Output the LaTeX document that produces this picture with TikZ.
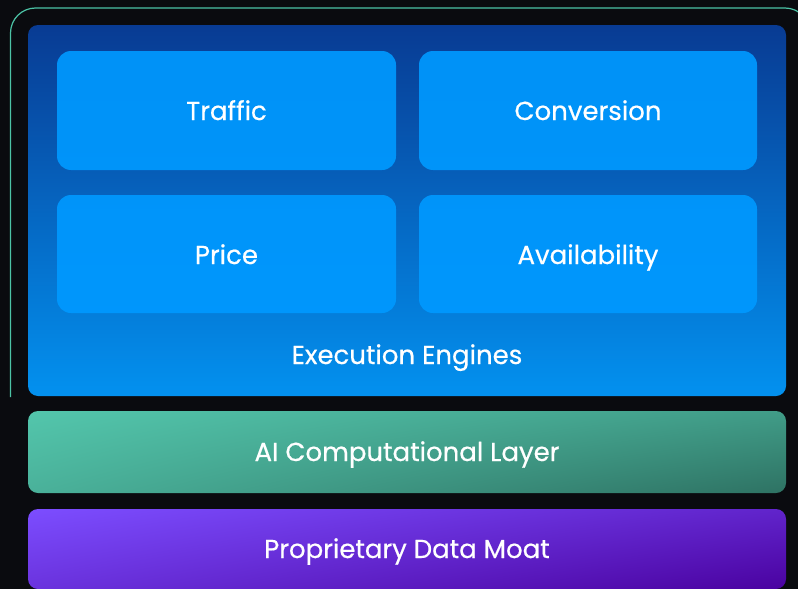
\documentclass[tikz,border=0pt]{standalone}
\usepackage{fontspec}
\setmainfont{Poppins}[FakeBold=0.5]
\usetikzlibrary{shadings}
\definecolor{bgdark}{HTML}{0A0B0F}
\definecolor{tealline}{HTML}{4CC3A6}
\definecolor{engtop}{HTML}{083B93}
\definecolor{engbot}{HTML}{0391EF}
\definecolor{tile}{HTML}{0099FF}
\definecolor{aitl}{HTML}{53C6AC}
\definecolor{aibr}{HTML}{2E7263}
\definecolor{moattl}{HTML}{7C4DFF}
\definecolor{moatbr}{HTML}{4A02A0}
\begin{document}
\begin{tikzpicture}[x=1pt,y=-1pt,
  lbl/.style={text=white,anchor=base,inner sep=0pt,font=\fontsize{26}{30}\selectfont},
  tilebox/.style={fill=tile,fill opacity=0.92,rounded corners=14pt}]
\fill[bgdark] (0,0) rectangle (798,589);
\useasboundingbox (0,0) rectangle (798,589);
% outline
\draw[tealline,line width=1.2pt,rounded corners=25pt] (10.5,397) -- (10.5,8) -- (810,8) -- (810,120);
% execution engines box
\shade[top color=engtop,bottom color=engbot,rounded corners=10pt] (28,25) rectangle (786,396);
\node[lbl] (englbl) at (407,364) {Execution Engines};
% tiles
\fill[tilebox] (57,51) rectangle (396,170);
\node[lbl] (traffic) at (226.5,120) {Traffic};
\fill[tilebox] (419,51) rectangle (757,170);
\node[lbl] (conversion) at (588,120) {Conversion};
\fill[tilebox] (57,195) rectangle (396,313);
\node[lbl] (price) at (226.5,264) {Price};
\fill[tilebox] (419,195) rectangle (757,313);
\node[lbl] (avail) at (588,264) {Availability};
% AI layer
\shade[upper left=aitl,lower right=aibr,upper right=aitl!50!aibr,lower left=aitl!75!aibr,rounded corners=10pt] (28,411) rectangle (786,493);
\node[lbl] (ai) at (407,461) {AI Computational Layer};
% data moat
\shade[upper left=moattl,lower right=moatbr,upper right=moattl!45!moatbr,lower left=moattl!65!moatbr,rounded corners=10pt] (28,509) rectangle (786,589);
\node[lbl] (moat) at (407,558) {Proprietary Data Moat};
\end{tikzpicture}
\end{document}
